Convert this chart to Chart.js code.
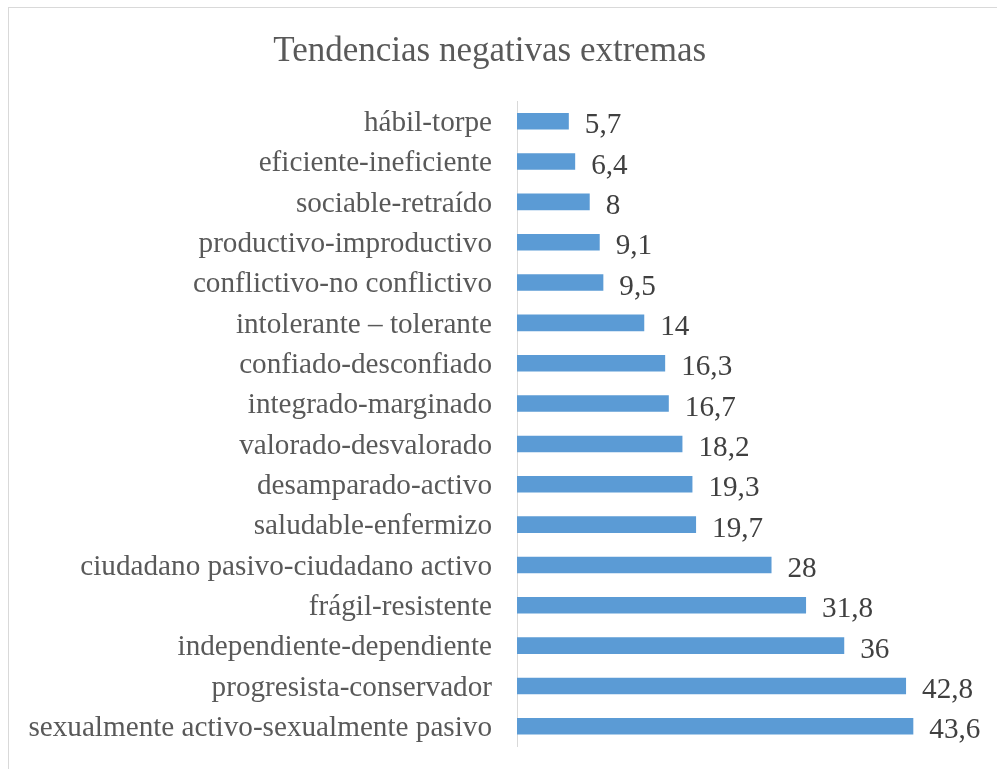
<!DOCTYPE html>
<html>
<head>
<meta charset="utf-8">
<script src="https://cdn.jsdelivr.net/npm/chart.js@4"></script>
<style>
  html, body { margin: 0; padding: 0; background: #ffffff; }
  #wrap { width: 997px; height: 769px; position: relative; }
</style>
</head>
<body>
<div id="wrap"><canvas id="chart"></canvas></div>
<script>
const categories = [
  'hábil-torpe',
  'eficiente-ineficiente',
  'sociable-retraído',
  'productivo-improductivo',
  'conflictivo-no conflictivo',
  'intolerante – tolerante',
  'confiado-desconfiado',
  'integrado-marginado',
  'valorado-desvalorado',
  'desamparado-activo',
  'saludable-enfermizo',
  'ciudadano pasivo-ciudadano activo',
  'frágil-resistente',
  'independiente-dependiente',
  'progresista-conservador',
  'sexualmente activo-sexualmente pasivo'
];
const values = [5.7, 6.4, 8, 9.1, 9.5, 14, 16.3, 16.7, 18.2, 19.3, 19.7, 28, 31.8, 36, 42.8, 43.6];
const chartTitle = 'Tendencias negativas extremas';

const serif = "'Liberation Serif', 'Times New Roman', serif";
const textGrey = '#595959';

// outer frame of the chart box
const framePlugin = {
  id: 'frame',
  beforeDraw(chart) {
    const ctx = chart.ctx;
    ctx.save();
    ctx.strokeStyle = '#d9d9d9';
    ctx.lineWidth = 1;
    ctx.strokeRect(8.5, 7.5, 996, 800);
    ctx.restore();
  }
};

// value labels at the end of each bar
const valueLabels = {
  id: 'valueLabels',
  afterDatasetsDraw(chart) {
    const ctx = chart.ctx;
    const meta = chart.getDatasetMeta(0);
    ctx.save();
    ctx.font = '29.2px ' + serif;
    ctx.fillStyle = '#404040';
    ctx.textAlign = 'left';
    ctx.textBaseline = 'alphabetic';
    meta.data.forEach((bar, i) => {
      const txt = String(values[i]).replace('.', ',');
      ctx.fillText(txt, bar.x + 16, bar.y + 12);
    });
    ctx.restore();
  }
};

const ctx = document.getElementById('chart').getContext('2d');
new Chart(ctx, {
  type: 'bar',
  data: {
    labels: categories,
    datasets: [{
      data: values,
      backgroundColor: '#5b9bd5',
      borderWidth: 0,
      categoryPercentage: 1,
      barPercentage: 0.41
    }]
  },
  plugins: [framePlugin, valueLabels],
  options: {
    indexAxis: 'y',
    responsive: true,
    maintainAspectRatio: false,
    animation: false,
    layout: { padding: { left: 8, right: 25.5, top: 0, bottom: 22.5 } },
    plugins: {
      legend: { display: false },
      tooltip: { enabled: false },
      title: {
        display: true,
        text: chartTitle,
        color: textGrey,
        font: { family: serif, size: 35, weight: 'normal' },
        padding: { top: 31, bottom: 28 }
      }
    },
    scales: {
      x: {
        display: false,
        min: 0,
        max: 50
      },
      y: {
        afterFit(scale) { scale.width = 509; },
        grid: { display: false, drawTicks: true, tickLength: 25 },
        border: { display: true, color: '#d9d9d9', width: 1 },
        ticks: {
          color: textGrey,
          padding: 0,
          labelOffset: 2,
          font: { family: serif, size: 29.2 }
        }
      }
    }
  }
});
</script>
</body>
</html>
